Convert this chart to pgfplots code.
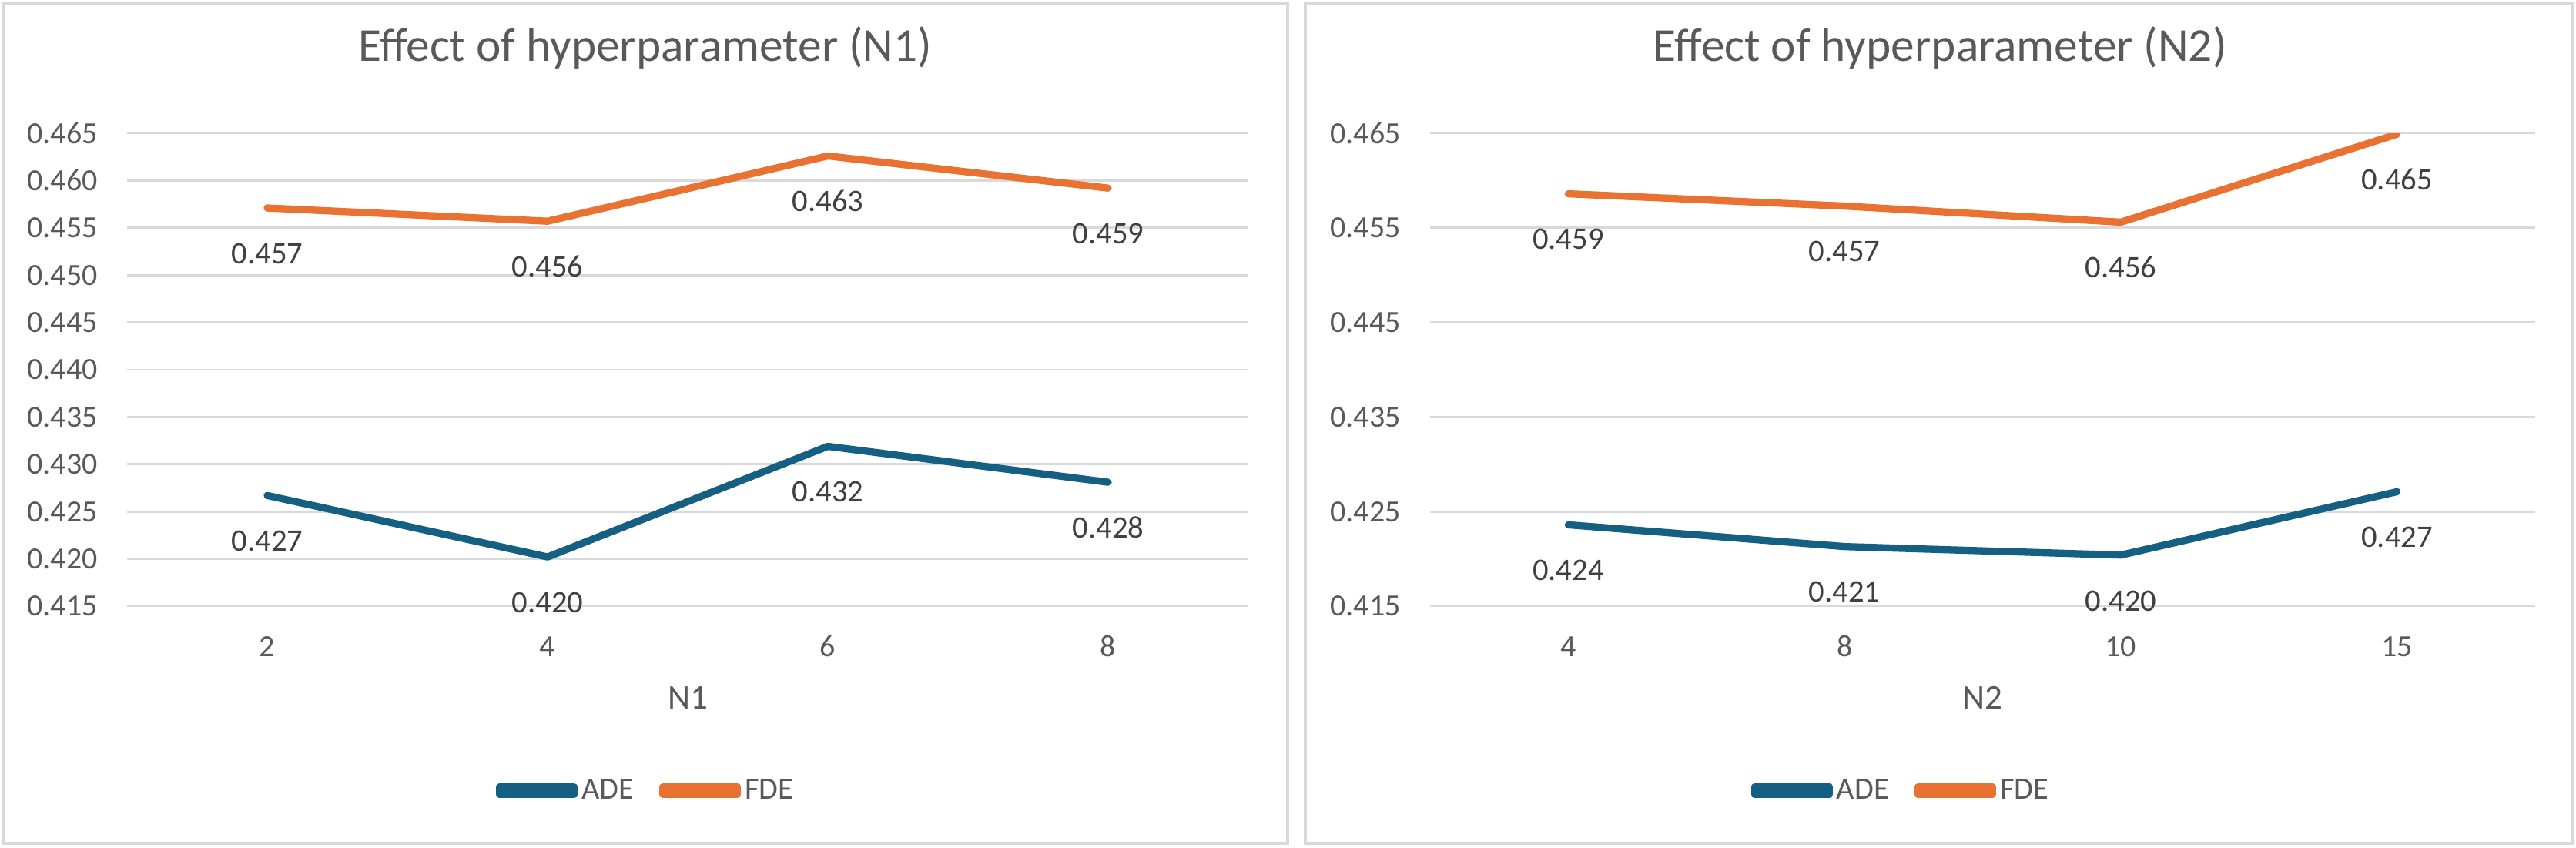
\documentclass[border=0pt]{standalone}
\usepackage{fontspec}
\setmainfont{Carlito}
\usepackage{pgfplots}
\pgfplotsset{compat=1.18}

\definecolor{adeblue}{HTML}{156082}
\definecolor{fdeorange}{HTML}{E97132}
\definecolor{gridgray}{HTML}{D9D9D9}
\definecolor{txtgray}{HTML}{595959}
\definecolor{lblgray}{HTML}{404040}

\pgfplotsset{
  excelpanel/.style={
    scale only axis, height=184.2pt, anchor=south west,
    ymin=0.415, ymax=0.465,
    xmin=-0.5, xmax=3.5, xtick={0,1,2,3},
    axis line style={draw=none},
    major tick length=0pt,
    ymajorgrids, grid style={gridgray, line width=0.8pt},
    tick label style={font=\fontsize{12}{14}\selectfont, text=txtgray},
    /pgf/number format/assume math mode=true,
    yticklabel={\pgfmathprintnumber[fixed,fixed zerofill,precision=3]{\tick}},
    yticklabel style={anchor=east, xshift=-8pt},
    xticklabel style={anchor=base, yshift=-19.5pt},
    title style={font=\fontsize{18.4}{22}\selectfont, text=txtgray,
      at={(axis description cs:0.5,1)}, anchor=base, yshift=22.2pt, xshift=-16.6pt},
    xlabel style={font=\fontsize{13.5}{16}\selectfont, text=txtgray,
      at={(axis description cs:0.5,0)}, anchor=base, yshift=-40.1pt},
    nodes near coords={\pgfmathprintnumber[fixed,fixed zerofill,precision=3]{\pgfplotspointmeta}},
    every node near coord/.append style={anchor=base, yshift=-21.7pt,
      font=\fontsize{12.2}{14}\selectfont, text=lblgray},
    legend columns=2,
    legend style={at={(axis description cs:0.5,0)}, anchor=center,
      xshift=-16pt, yshift=-71.9pt, draw=none, fill=none,
      font=\fontsize{12.1}{14}\selectfont, text=txtgray,
      /tikz/every even column/.append style={column sep=8.5pt},
      nodes={inner sep=1.5pt}},
    legend image code/.code={%
      \path (0pt,-1.5pt) rectangle (29pt,1.5pt);
      \draw[#1, line width=3pt, line cap=round] (1.5pt,0pt) -- (27.5pt,0pt);},
    every axis plot/.append style={line width=2.8pt, line cap=round, line join=round, mark=none},
  }
}

\begin{document}
\begin{tikzpicture}
\path[use as bounding box] (0,0) rectangle (1003.5pt,330pt);
\draw[gridgray, line width=1pt] (1.5pt,1.5pt) rectangle (501.6pt,328.5pt);
\draw[gridgray, line width=1pt] (508.5pt,1.5pt) rectangle (1002pt,328.5pt);

\begin{axis}[excelpanel,
  at={(49.5pt,93.9pt)}, width=436.8pt,
  ytick={0.415,0.420,0.425,0.430,0.435,0.440,0.445,0.450,0.455,0.460,0.465},
  xticklabels={2,4,6,8},
  title={Effect of hyperparameter (N1)},
  xlabel={N1},
]
\addplot[adeblue] coordinates {(0,0.4267) (1,0.4202) (2,0.4319) (3,0.4281)};
\addlegendentry{ADE}
\addplot[fdeorange] coordinates {(0,0.4571) (1,0.4557) (2,0.4626) (3,0.4592)};
\addlegendentry{FDE}
\end{axis}

\begin{axis}[excelpanel,
  at={(557.1pt,93.9pt)}, width=430.5pt,
  ytick={0.415,0.425,0.435,0.445,0.455,0.465},
  xticklabels={4,8,10,15},
  title={Effect of hyperparameter (N2)},
  xlabel={N2},
  legend style={xshift=-15.5pt},
]
\addplot[adeblue] coordinates {(0,0.4236) (1,0.4213) (2,0.4204) (3,0.4271)};
\addlegendentry{ADE}
\addplot[fdeorange] coordinates {(0,0.4586) (1,0.4573) (2,0.4556) (3,0.4649)};
\addlegendentry{FDE}
\end{axis}
\end{tikzpicture}
\end{document}
